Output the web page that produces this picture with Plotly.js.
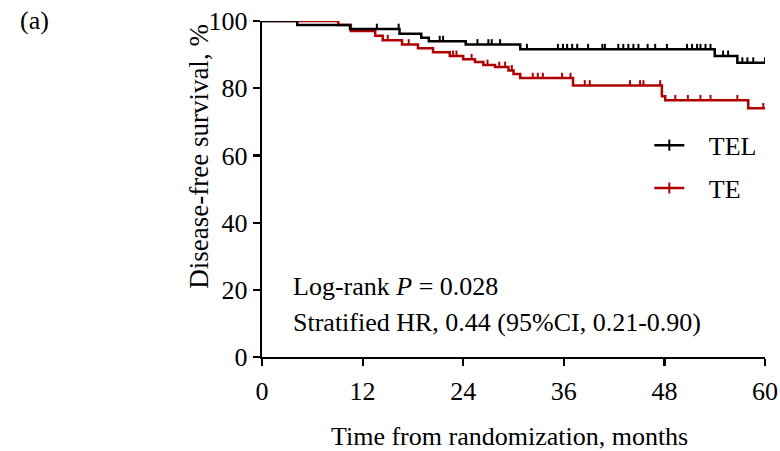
<!DOCTYPE html>
<html>
<head>
<meta charset="utf-8">
<script src="https://cdn.plot.ly/plotly-3.0.1.min.js"></script>
<style>html,body{margin:0;padding:0;background:#fff;}#chart{width:780px;height:451px;}</style>
</head>
<body>
<div id="chart"></div>
<script>
// ---- Data ----
var seriesNames = ["TEL", "TE"];
// TEL: Kaplan-Meier step points (months, % disease-free)
var telTimes = [0, 4.2, 10.5, 16.4, 19.0, 19.9, 24.3, 30.8, 54.0, 56.7, 60];
var telSurv  = [100, 98.8, 97.6, 96.2, 95.0, 94.0, 93.0, 91.6, 89.6, 87.6, 87.6];
var telCensor = [13.7, 16.3, 21.2, 21.6, 25.7, 27.0, 27.4, 28.4, 31.6, 35.3, 35.9, 36.4, 37.0, 37.6, 38.9, 40.6, 40.9, 42.5, 43.1, 43.7, 44.3, 44.9, 46.0, 46.9, 48.3, 50.7, 51.3, 51.9, 52.3, 52.9, 53.5, 55.0, 55.6, 57.3, 57.9, 58.6, 60.0];
// TE
var teTimes = [0, 9.1, 10.6, 13.5, 14.4, 16.7, 18.6, 20.4, 22.4, 24.0, 25.4, 26.4, 27.8, 29.4, 30.0, 30.8, 37.1, 47.7, 48.1, 58.0, 60];
var teSurv  = [100, 98.8, 97.0, 95.6, 94.3, 93.0, 91.9, 90.7, 89.6, 88.6, 87.8, 86.9, 86.3, 85.3, 84.2, 83.0, 80.8, 77.6, 76.4, 74.0, 74.0];
var teCensor = [15.0, 17.5, 22.8, 23.2, 25.0, 26.9, 28.3, 29.0, 29.8, 32.3, 32.9, 33.5, 35.8, 36.8, 38.5, 39.1, 43.9, 45.1, 45.5, 47.5, 49.3, 50.8, 52.3, 53.5, 56.7, 59.8];
var xTicks = [0, 12, 24, 36, 48, 60];
var yTicks = [0, 20, 40, 60, 80, 100];

// ---- Styling ----
var colors = {TEL: "#000000", TE: "#b00000"};
var FONT = "Liberation Serif, Times New Roman, serif";
var FS = 26;
var TICK_H = 1.6; // censor tick height (in % units)

function survAt(times, surv, t) {
  var s = surv[0];
  for (var i = 0; i < times.length; i++) { if (times[i] <= t) s = surv[i]; }
  return s;
}
function censorSegs(times, surv, cens) {
  var x = [], y = [];
  cens.forEach(function (t) {
    var s = survAt(times, surv, t);
    x.push(t, t, null); y.push(s, s + TICK_H, null);
  });
  return {x: x, y: y};
}
var telC = censorSegs(telTimes, telSurv, telCensor);
var teC = censorSegs(teTimes, teSurv, teCensor);

var PAD = "\u00a0\u00a0\u00a0";
var traces = [
  {x: teTimes, y: teSurv, mode: "lines", line: {shape: "hv", color: colors.TE, width: 2.5}, showlegend: false, cliponaxis: false, hoverinfo: "skip"},
  {x: teC.x, y: teC.y, mode: "lines", line: {color: colors.TE, width: 2}, showlegend: false, cliponaxis: false, hoverinfo: "skip"},
  {x: telTimes, y: telSurv, mode: "lines", line: {shape: "hv", color: colors.TEL, width: 2.5}, showlegend: false, cliponaxis: false, hoverinfo: "skip"},
  {x: telC.x, y: telC.y, mode: "lines", line: {color: colors.TEL, width: 2}, showlegend: false, cliponaxis: false, hoverinfo: "skip"},
  // legend entries
  {x: [null], y: [null], name: PAD + seriesNames[0], legendgroup: "a", mode: "lines+markers", line: {color: colors.TEL, width: 2.5}, marker: {symbol: "line-ns", size: 8, line: {color: colors.TEL, width: 2}}},
  {x: [null], y: [null], name: PAD + seriesNames[1], legendgroup: "b", mode: "lines+markers", line: {color: colors.TE, width: 2.5}, marker: {symbol: "line-ns", size: 8, line: {color: colors.TE, width: 2}}}
];

var axisCommon = {
  showline: true, linecolor: "#000", linewidth: 2.2, mirror: false,
  ticks: "outside", ticklen: 7, tickwidth: 2.2, tickcolor: "#000",
  showgrid: false, zeroline: false, fixedrange: true,
  tickfont: {family: FONT, size: FS, color: "#000"}
};

var layout = {
  width: 780, height: 451,
  margin: {l: 262, r: 15, t: 21, b: 94},
  paper_bgcolor: "#fff", plot_bgcolor: "#fff",
  font: {family: FONT, size: FS, color: "#000"},
  xaxis: Object.assign({}, axisCommon, {
    range: [0, 60], tickvals: xTicks, ticktext: xTicks.map(String), ticklabelstandoff: 3
  }),
  yaxis: Object.assign({}, axisCommon, {
    range: [0, 100], tickvals: yTicks, ticktext: yTicks.map(String)
  }),
  showlegend: true,
  legend: {x: 0.77, y: 0.70, xanchor: "left", yanchor: "top", bgcolor: "rgba(0,0,0,0)", borderwidth: 0,
           font: {family: FONT, size: FS, color: "#000"}, tracegroupgap: 6},
  annotations: [
    {text: "Time from randomization, months", xref: "paper", yref: "paper", x: 0.493, y: -0.238, xanchor: "center", yanchor: "middle", showarrow: false, font: {family: FONT, size: FS}},
    {text: "Disease-free survival, %", xref: "paper", yref: "paper", x: -0.159, y: 0.596, textangle: -90, showarrow: false, font: {family: FONT, size: 27}},
    {text: "(a)", xref: "paper", yref: "paper", x: -0.485, y: 1.05, showarrow: false, font: {family: FONT, size: FS}},
    {text: "Log-rank <i>P</i> = 0.028", xref: "paper", yref: "paper", x: 0.058, y: 0.162, xanchor: "left", showarrow: false, font: {family: FONT, size: FS}},
    {text: "Stratified HR, 0.44 (95%CI, 0.21-0.90)", xref: "paper", yref: "paper", x: 0.058, y: 0.053, xanchor: "left", showarrow: false, font: {family: FONT, size: FS}}
  ]
};

Plotly.newPlot("chart", traces, layout, {displayModeBar: false, staticPlot: true});
</script>
</body>
</html>
